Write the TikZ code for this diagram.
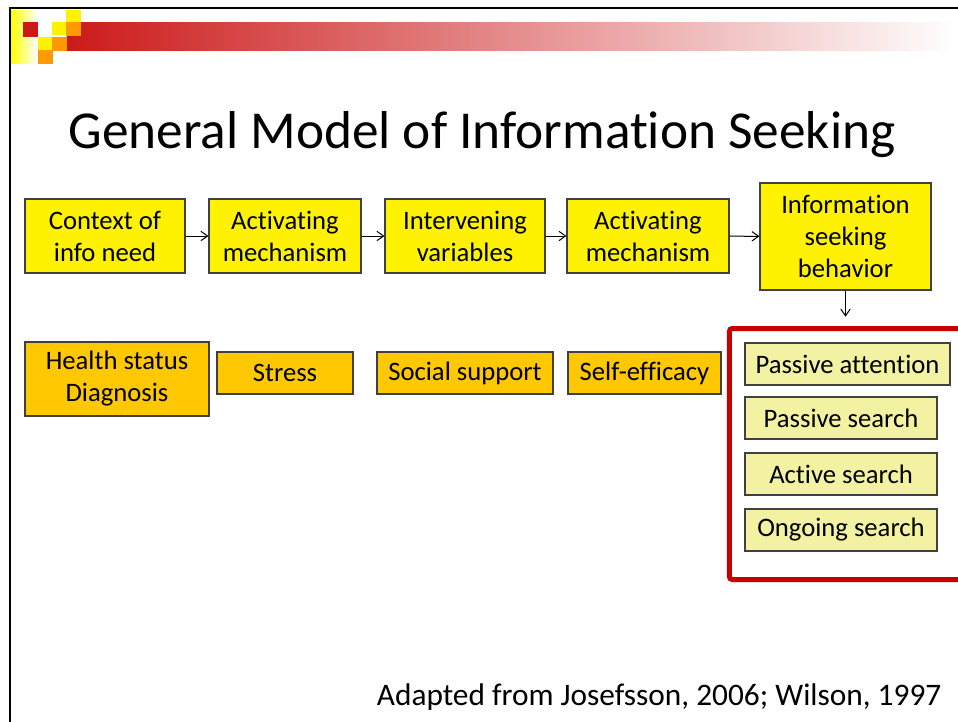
\documentclass[tikz,border=0pt]{standalone}
\usepackage{fontspec}
\setmainfont{Carlito}[Ligatures=NoCommon]
\usetikzlibrary{arrows.meta}
\definecolor{barred}{RGB}{204,26,26}
\definecolor{amber}{RGB}{255,200,0}
\definecolor{sqorange}{RGB}{255,153,0}
\definecolor{paleyellow}{RGB}{242,242,162}
\definecolor{framered}{RGB}{200,0,0}
\tikzstyle{stage}=[draw=black!75,fill=yellow,line width=0.8pt,align=center,inner sep=0pt,minimum height=55.5pt,font=\fontsize{20}{24}\selectfont]
\tikzstyle{factor}=[draw=black!75,fill=amber,line width=0.8pt,align=center,inner sep=0pt,minimum height=31.5pt,font=\fontsize{20}{24}\selectfont]
\tikzstyle{mode}=[draw=black!75,fill=paleyellow,line width=0.8pt,align=center,inner sep=0pt,minimum height=31.5pt,minimum width=144pt,font=\fontsize{20}{24}\selectfont]

\begin{document}
\begin{tikzpicture}[x=0.75pt,y=-0.75pt,>={Straight Barb[length=5pt,width=7pt]}]
\useasboundingbox (0,0) rectangle (958,722);
% slide frame and header
\draw[line width=1.5pt] (10,722) -- (10,8) -- (958,8);
\shade[left color=yellow,right color=white] (11,10) rectangle (37,63);
\shade[left color=barred,right color=white,shading angle=90] (67,22) rectangle (958,50);
\fill[barred] (23,22) rectangle (38,37);
\foreach \x/\y in {66/10,52/22,38/37} \fill[yellow] (\x,\y) rectangle ++(15,12.5);
\foreach \x/\y in {66/22,52/37,38/50} \fill[sqorange] (\x,\y) rectangle ++(15,14);
\node[anchor=base,font=\fontsize{40}{48}\selectfont] (title) at (482,148) {General Model of Information Seeking};

\node[stage,minimum width=120pt] at (105,236) (context) {Context of\\info need};
\node[stage,minimum width=114pt] at (285,236) (act1) {Activating\\mechanism};
\node[stage,minimum width=120pt] at (465,236) (interv) {Intervening\\variables};
\node[stage,minimum width=121.5pt] at (648,236) (act2) {Activating\\mechanism};
\node[stage,minimum width=128.25pt,minimum height=80.25pt] at (845.5,236.5) (seek) {Information\\seeking\\behavior};
\draw[->,line width=0.75pt] (context) edge (act1);
\draw[->,line width=0.75pt] (act1) edge (interv);
\draw[->,line width=0.75pt] (interv) edge (act2);
\draw[->,line width=0.75pt] (act2) edge (seek);

\node[factor,minimum width=138pt,minimum height=55.5pt] at (117,379) (health) {Health status\\Diagnosis};
\node[factor,minimum width=102pt] at (285,373) (stress) {Stress};
\node[factor,minimum width=132pt] at (465,373) (social) {Social support};
\node[factor,minimum width=114.75pt] at (644.5,373) (efficacy) {Self-efficacy};

\node[draw=framered,line width=3.75pt,rounded corners=2pt,minimum width=175.9pt,minimum height=188.25pt] at (846.75,454) (frame) {};
\draw[->,line width=0.75pt,shorten >=7pt] (seek) -- (seek |- frame.north);
\node[mode,minimum width=153.75pt] at (847.5,364) (attention) {Passive attention};
\node[mode] at (841,418) (passive) {Passive search};
\node[mode] at (841,474) (active) {Active search};
\node[mode] at (841,530) (ongoing) {Ongoing search};

\node[anchor=base east,font=\fontsize{23.5}{28}\selectfont] (source) at (946,705) {Adapted from Josefsson, 2006; Wilson, 1997};
\end{tikzpicture}
\end{document}
